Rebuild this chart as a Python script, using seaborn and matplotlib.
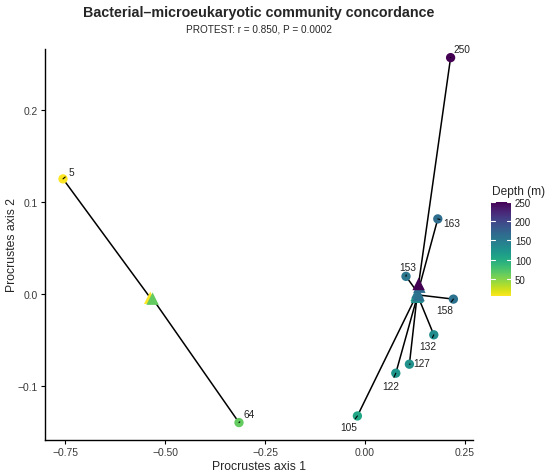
import matplotlib
matplotlib.use("Agg")
import matplotlib.pyplot as plt
import matplotlib as mpl
import seaborn as sns
import pandas as pd
import numpy as np

# ---- data ----
depth = [5, 64, 105, 122, 127, 132, 153, 158, 163, 250]
axis1_target = [-0.755, -0.315, -0.019, 0.077, 0.111, 0.172, 0.1025, 0.221, 0.182, 0.214]
axis2_target = [0.1255, -0.140, -0.1328, -0.0862, -0.0764, -0.0444, 0.0193, -0.0055, 0.0819, 0.2576]
axis1_rot = [-0.537, -0.531, 0.129, 0.131, 0.130, 0.132, 0.131, 0.134, 0.136, 0.134]
axis2_rot = [-0.004, -0.005, -0.001, -0.002, -0.003, -0.002, 0.002, -0.001, 0.008, 0.011]
labels = [str(d) for d in depth]
title = "Bacterial\u2013microeukaryotic community concordance"
subtitle = "PROTEST: r = 0.850, P = 0.0002"

# label offsets in points (layout only)
label_offsets = {
    "5": (6, 5), "64": (7, 6), "105": (-6, -8), "122": (-4, -9), "127": (9, 1),
    "132": (-4, -8), "153": (1, 7), "158": (-6, -8), "163": (10, -3), "250": (8, 6),
}

df = pd.DataFrame({"depth": depth, "x": axis1_target, "y": axis2_target,
                   "xr": axis1_rot, "yr": axis2_rot, "label": labels})

sns.set_theme(style="ticks")
plt.rcParams["font.family"] = ["Liberation Sans", "DejaVu Sans"]

fig = plt.figure(figsize=(5.5, 4.77), dpi=100)
ax = fig.add_axes([45/550, 1-441/477, (473-45)/550, (441-50)/477])

norm = mpl.colors.Normalize(vmin=5, vmax=250)
cmap = plt.get_cmap("viridis_r")

# procrustes residual lines
for _, r in df.iterrows():
    ax.plot([r.x, r.xr], [r.y, r.yr], color="black", lw=1.1, zorder=1)

sns.scatterplot(data=df, x="x", y="y", hue="depth", palette=cmap, hue_norm=norm,
                s=45, edgecolor="none", legend=False, ax=ax, zorder=3)
df_sorted = df.sort_values("depth")
sns.scatterplot(data=df_sorted, x="xr", y="yr", hue="depth", palette=cmap, hue_norm=norm,
                marker="^", s=80, edgecolor="none", legend=False, ax=ax, zorder=4)

for _, r in df.iterrows():
    dx, dy = label_offsets[r.label]
    ax.annotate(r.label, xy=(r.x, r.y), xytext=(dx, dy), textcoords="offset points",
                ha="center", va="center", fontsize=7.3, color="#222222",
                arrowprops=dict(arrowstyle="-", lw=0.8, color="black", shrinkA=4, shrinkB=0),
                zorder=5, annotation_clip=False)

ax.set_xlim(-0.80, 0.27)
ax.set_ylim(-0.159, 0.267)
ax.set_xticks([-0.75, -0.50, -0.25, 0.00, 0.25])
ax.set_xticklabels(["\u22120.75", "\u22120.50", "\u22120.25", "0.00", "0.25"])
ax.set_yticks([-0.1, 0.0, 0.1, 0.2])
ax.set_yticklabels(["\u22120.1", "0.0", "0.1", "0.2"])
ax.tick_params(axis="both", labelsize=7.4, length=3, width=0.8, color="black", labelcolor="#3a3a3a", pad=2)
for s in ["top", "right"]:
    ax.spines[s].set_visible(False)
for s in ["left", "bottom"]:
    ax.spines[s].set_linewidth(1.0)
    ax.spines[s].set_color("black")
ax.set_xlabel("Procrustes axis 1", fontsize=8.8, labelpad=2)
ax.set_ylabel("Procrustes axis 2", fontsize=8.8)
ax.yaxis.set_label_coords(-27.0/428, 0.5)

fig.text(259/550, 1-12.7/477, title, ha="center", va="center", fontsize=10.3, fontweight="bold")
fig.text(259/550, 1-30/477, subtitle, ha="center", va="center", fontsize=7.2)

# colorbar
cax = fig.add_axes([490.7/550, 1-297.3/477, 20/550, 94.6/477])
cb = fig.colorbar(mpl.cm.ScalarMappable(norm=norm, cmap=cmap), cax=cax)
cb.outline.set_visible(False)
cb.set_ticks([50, 100, 150, 200, 250])
cax.tick_params(labelsize=7, length=0, pad=3, labelcolor="#222222")
for t in [50, 100, 150, 200, 250]:
    cax.plot([0, 0.2], [t, t], color="white", lw=0.8, transform=cax.get_yaxis_transform())
    cax.plot([0.8, 1.0], [t, t], color="white", lw=0.8, transform=cax.get_yaxis_transform())
fig.text(491.7/550, 1-191.7/477, "Depth (m)", ha="left", va="center", fontsize=8.6)

fig.savefig("out.png", dpi=100)
